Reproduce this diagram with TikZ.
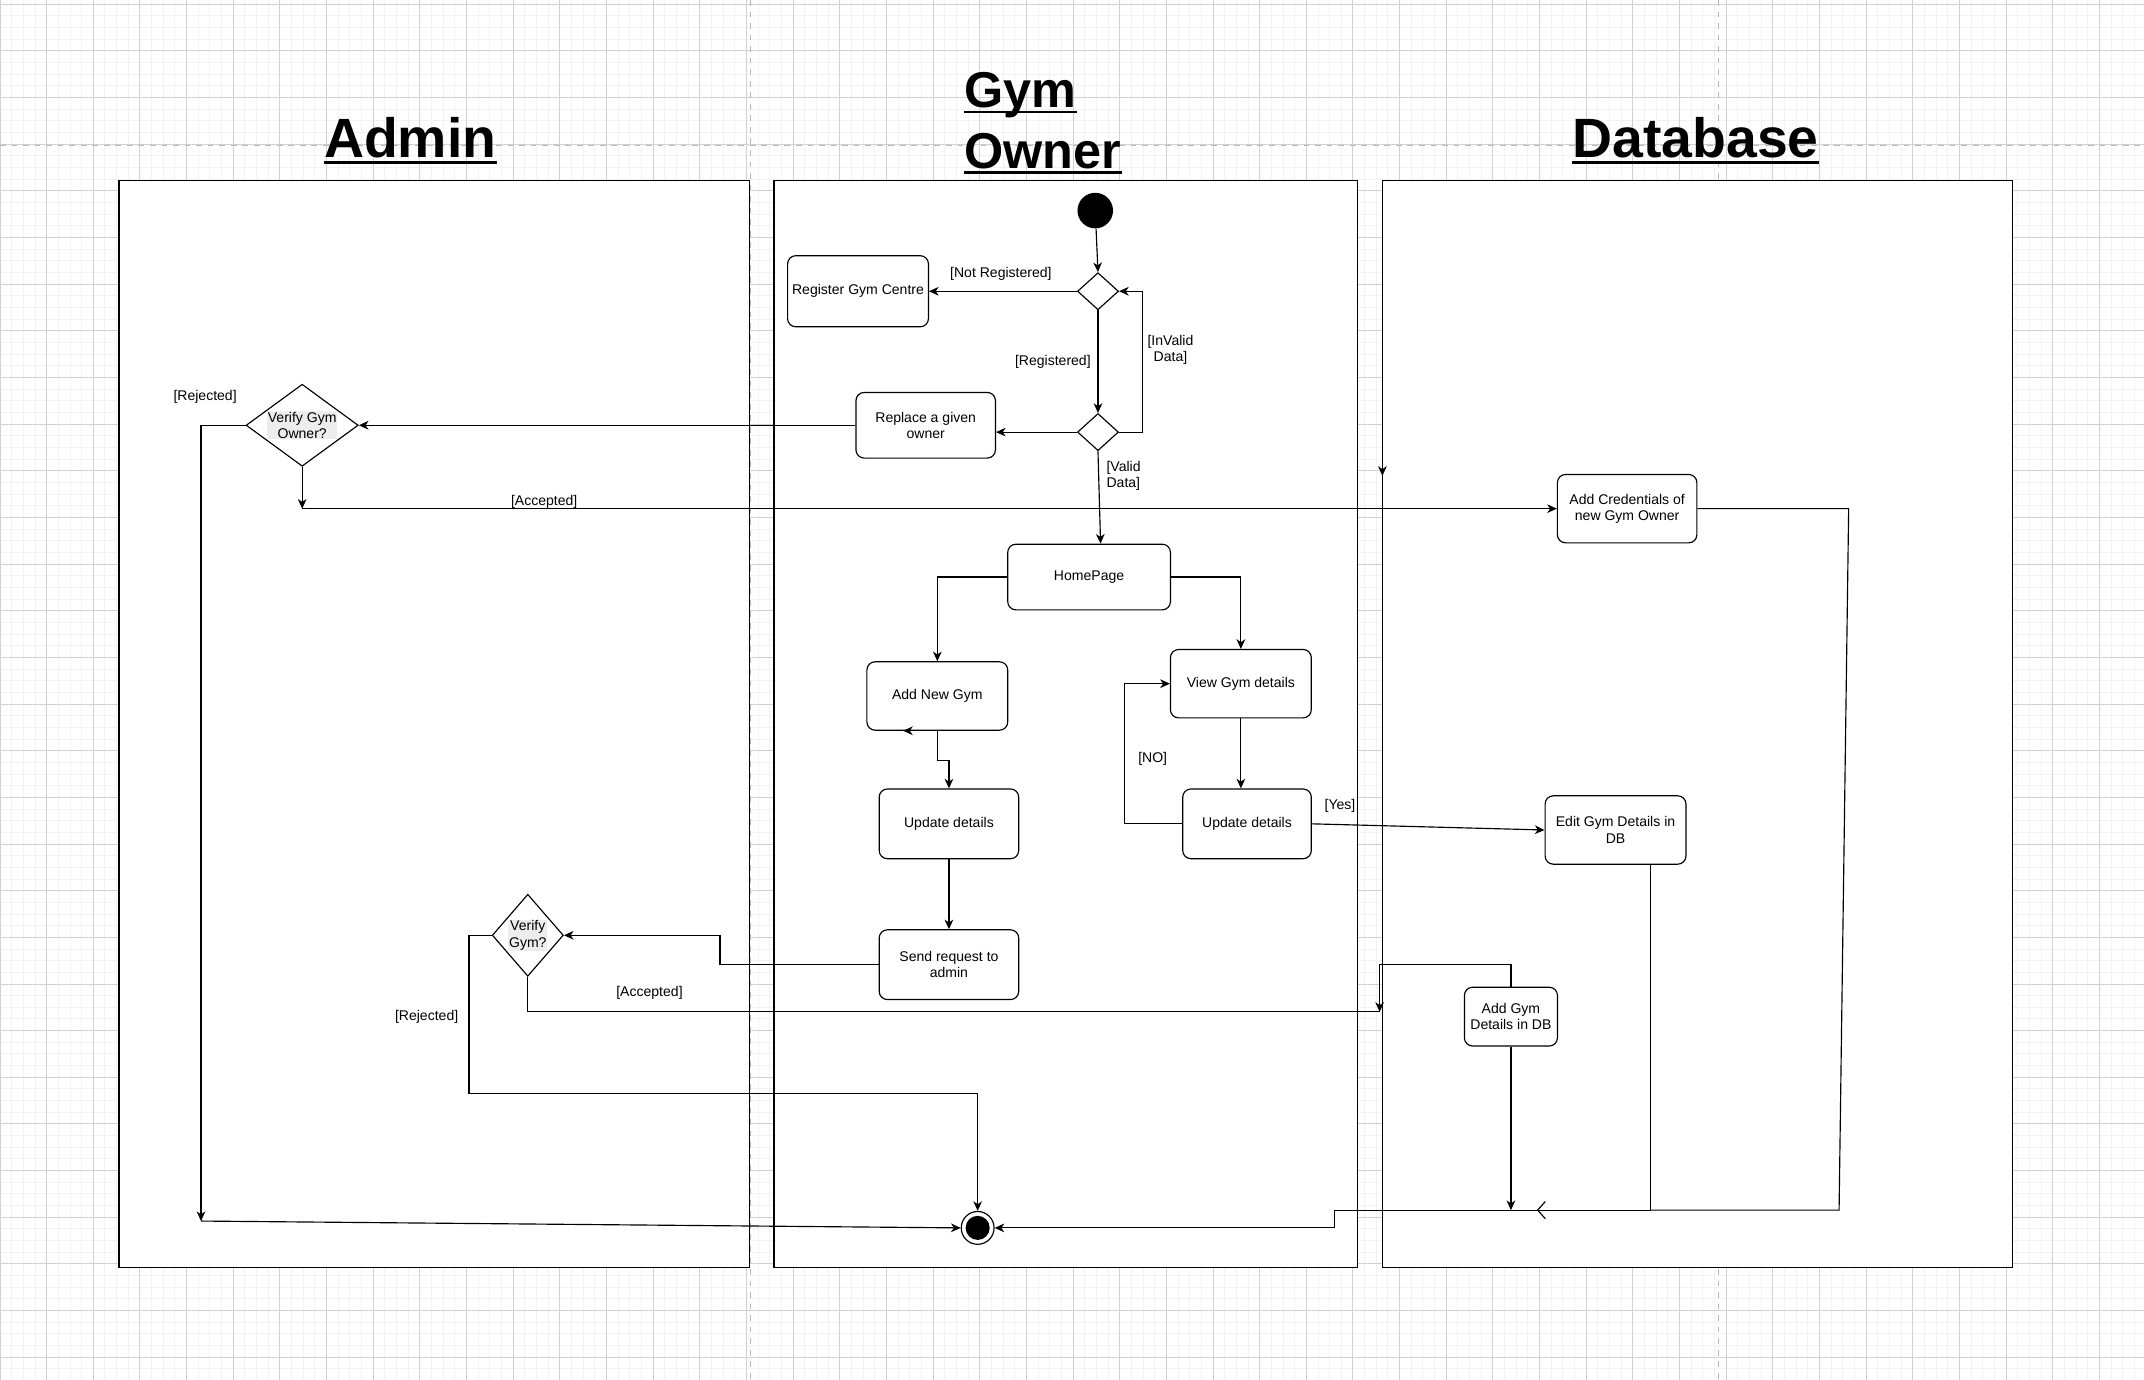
\documentclass[tikz,border=0pt]{standalone}
\usepackage{fontspec}
\setmainfont{Liberation Sans}
\usetikzlibrary{shapes.geometric,arrows.meta}

\begin{document}
\begin{tikzpicture}[x=0.025cm,y=-0.025cm,
    lane/.style={draw,line width=0.7pt,fill=white},
    act/.style={draw,rounded corners=0.15cm,line width=0.6pt,fill=white,align=center,inner sep=1pt,font=\fontsize{7.3}{8.6}\selectfont},
    decision/.style={draw,diamond,line width=0.6pt,fill=white,inner sep=0pt},
    dectext/.style={align=center,inner sep=0.4pt,fill=black!7,font=\fontsize{7.3}{8.6}\selectfont},
    guard/.style={align=center,inner sep=0pt,font=\fontsize{7.3}{8.6}\selectfont},
    title/.style={inner sep=0pt,font=\fontsize{28.8}{32}\selectfont\bfseries},
    subtitle/.style={inner sep=0pt,font=\fontsize{26.2}{30}\selectfont\bfseries},
    flow/.style={line width=0.6pt,-{Stealth[length=5pt,width=4.5pt,inset=1.5pt]}},
    link/.style={line width=0.6pt},
    openflow/.style={line width=0.6pt,-{Straight Barb[length=4pt,width=9pt]}},
    minorline/.style={black!5,line width=0.5pt},
    majorline/.style={black!18,line width=0.5pt}]

    \useasboundingbox (0,0) rectangle (1568,1009);
    \fill[white] (0,0) rectangle (1568,1009);
    % grid of the canvas
    \foreach \i in {0,...,184} \draw[minorline] (\i*8.53,0) -- (\i*8.53,1009);
    \foreach \j in {0,...,118} \draw[minorline] (0,3.1+\j*8.53) -- (1568,3.1+\j*8.53);
    \foreach \i in {0,...,46} \draw[majorline] (\i*34.12,0) -- (\i*34.12,1009);
    \foreach \j in {0,...,29} \draw[majorline] (0,3.1+\j*34.12) -- (1568,3.1+\j*34.12);
    \draw[black!28,dashed,line width=0.6pt] (548.8,0) -- (548.8,1009);
    \draw[black!28,dashed,line width=0.6pt] (1257,0) -- (1257,1009);
    \draw[black!28,dashed,line width=0.6pt] (0,106.6) -- (1568,106.6);

    % swimlanes
    \draw[lane] (87,132) rectangle (548,927);
    \draw[lane] (566,132) rectangle (993,927);
    \draw[lane] (1011,132) rectangle (1472,927);
    \node[title,anchor=base] (adminT) at (300,115.5) {Admin};
    \node[subtitle,anchor=base west] (gymT) at (705,78.5) {Gym};
    \node[subtitle,anchor=base west] (ownerT) at (705,123) {Owner};
    \node[title,anchor=base] (dbT) at (1240,115.5) {Database};
    \foreach \t in {adminT,gymT,ownerT,dbT}
        \draw[line width=1.4pt] ([yshift=-2.4pt]\t.base west) -- ([yshift=-2.4pt]\t.base east);

    % gym owner lane
    \node[circle,fill=black,minimum size=0.65cm,inner sep=0pt] (start) at (801,154) {};
    \node[decision,minimum width=0.75cm,minimum height=0.68cm] (d1) at (803,213) {};
    \node[decision,minimum width=0.75cm,minimum height=0.68cm] (d2) at (803,316) {};
    \node[act,minimum width=2.575cm,minimum height=1.3cm] (reg) at (627.5,213) {Register Gym Centre};
    \node[act,minimum width=2.55cm,minimum height=1.2cm] (repl) at (677,311) {Replace a given\\owner};
    \node[act,minimum width=2.975cm,minimum height=1.2cm] (home) at (796.5,422) {HomePage};
    \node[act,minimum width=2.575cm,minimum height=1.25cm] (addgym) at (685.5,509) {Add New Gym};
    \node[act,minimum width=2.575cm,minimum height=1.25cm] (view) at (907.5,500) {View Gym details};
    \node[act,minimum width=2.55cm,minimum height=1.275cm] (upd1) at (694,602.5) {Update details};
    \node[act,minimum width=2.35cm,minimum height=1.275cm] (upd2) at (912,602.5) {Update details};
    \node[act,minimum width=2.55cm,minimum height=1.275cm] (send) at (694,705.5) {Send request to\\admin};
    \node[circle,draw,line width=0.6pt,fill=white,minimum size=0.6cm,inner sep=0pt,
        path picture={\fill[black] (path picture bounding box.center) circle (0.22cm);}] (end) at (715,898) {};

    % admin lane
    \node[decision,minimum width=2.05cm,minimum height=1.5cm,
        label={[dectext]center:Verify Gym\\Owner?}] (vown) at (221,311) {};
    \node[decision,minimum width=1.3cm,minimum height=1.5cm,
        label={[dectext]center:Verify\\Gym?}] (vgym) at (386,684) {};

    % database lane
    \node[act,minimum width=2.55cm,minimum height=1.25cm] (cred) at (1190,372) {Add Credentials of\\new Gym Owner};
    \node[act,minimum width=2.575cm,minimum height=1.25cm] (edit) at (1181.5,607) {Edit Gym Details in\\DB};
    \node[act,minimum width=1.7cm,minimum height=1.075cm] (adddb) at (1105,743.5) {Add Gym\\Details in DB};

    % guards
    \node[guard] (gNotReg) at (732,200) {[Not Registered]};
    \node[guard] (gReg) at (770,265) {[Registered]};
    \node[guard] (gInvalid) at (856,256) {[InValid\\Data]};
    \node[guard,align=left,anchor=west] (gValid) at (809,348) {[Valid\\Data]};
    \node[guard] (gRej1) at (150,290) {[Rejected]};
    \node[guard] (gAcc1) at (398,367) {[Accepted]};
    \node[guard] (gNo) at (843,555) {[NO]};
    \node[guard] (gYes) at (980,589) {[Yes]};
    \node[guard] (gAcc2) at (475,726) {[Accepted]};
    \node[guard] (gRej2) at (312,744) {[Rejected]};

    % free ends
    \coordinate (acc1) at (221,372);
    \coordinate (acc2) at (1009,740);
    \coordinate (rej1) at (147,893);
    \coordinate (rej2) at (343,800);
    \coordinate (border) at (1011,348);
    \coordinate (c1) at (1352,372);
    \coordinate (c2) at (1345,885);
    \coordinate (e1) at (1207,885);
    \coordinate (merge) at (1124,885);
    \coordinate (m1) at (976,885);

    % connectors
    \draw[flow] (start) -- (d1.north);
    \draw[flow] (d1.west) -- (reg.east);
    \draw[flow] (d1) -- (d2);
    \draw[flow] (d2.east) -- ++(17,0) |- (d1.east);
    \draw[flow] (d2.west) -- (d2.west -| repl.east);
    \draw[flow] (d2.south) -- ([xshift=0.21cm]home.north);
    \draw[flow] (repl) -- (vown);
    \draw[flow] (vown.south) -- (acc1);
    \draw[flow] (acc1) -- (cred);
    \draw[flow] ([yshift=0.45cm]border) -- (border);
    \draw[link] (vown.west) -- (vown.west -| rej1);
    \draw[flow] (vown.west -| rej1) -- (rej1);
    \draw[flow] (rej1) -- (end.west);
    \draw[flow] (home.west) -| (addgym.north);
    \draw[flow] (home.east) -| (view.north);
    \draw[flow] (addgym.south) -- ++(-25,0);
    \draw[flow] (addgym.south) -- ++(0,22) -| (upd1.north);
    \draw[flow] (view.south) -- (view.south |- upd2.north);
    \draw[flow] (upd2.west) -- ++(-42,0) |- (view.west);
    \draw[flow] (upd2.east) -- (edit.west);
    \draw[flow] (upd1) -- (send);
    \draw[flow] (send.west) -- ++(-116,0) |- (vgym.east);
    \draw[link] (vgym.south) |- (acc2);
    \draw[flow] (adddb.north) -- ++(0,-16) -| (acc2);
    \draw[flow] (vgym.west) -| (rej2) -| (end.north);
    \draw[flow] (adddb.south) -- (adddb.south |- merge);
    \draw[openflow] (edit.south -| e1) -- (e1) -- (merge);
    \draw[link] (cred.east) -- (c1) -- (c2) -- (e1);
    \draw[flow] (merge) -- (m1) |- (end.east);
\end{tikzpicture}
\end{document}
